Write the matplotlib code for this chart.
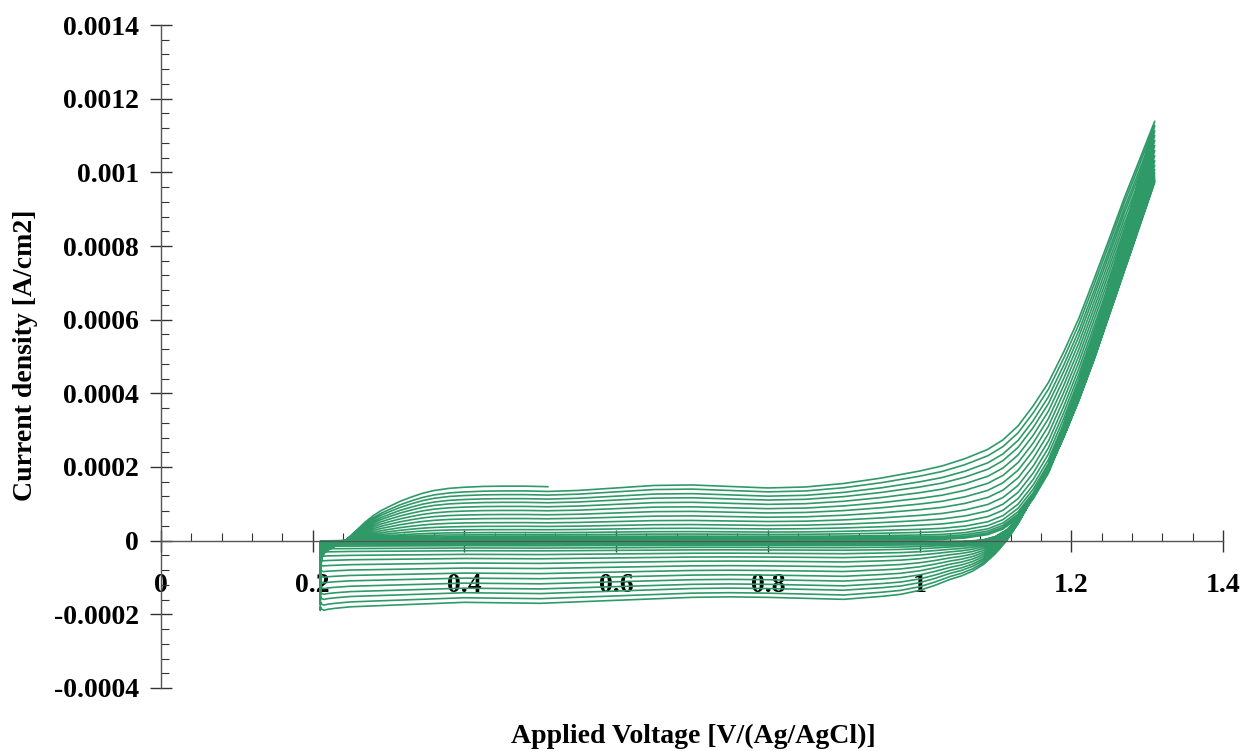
import numpy as np
import matplotlib.pyplot as plt
from matplotlib.ticker import MultipleLocator, FuncFormatter

plt.rcParams['font.family'] = ['Liberation Serif', 'DejaVu Serif']
plt.rcParams['font.weight'] = 'bold'

# anodic sweep: potential (V vs Ag/AgCl)
v_fwd = np.array([0.210, 0.2105, 0.212, 0.216, 0.222, 0.230, 0.237, 0.243, 0.250,
                  0.260, 0.270, 0.280, 0.290, 0.300, 0.315, 0.330, 0.345, 0.360,
                  0.380, 0.400, 0.425, 0.450, 0.480, 0.510, 0.550, 0.600, 0.650,
                  0.700, 0.750, 0.800, 0.850, 0.900, 0.950, 1.000, 1.030, 1.060,
                  1.090, 1.110, 1.130, 1.150, 1.170, 1.190, 1.210, 1.230, 1.250,
                  1.270, 1.290, 1.310])
# double layer part, in units of the plateau current at 0.45 V
cap_fwd = np.array([-1.28, -0.55, -0.32, -0.22, -0.16, -0.10, -0.05, 0.00, 0.09,
                    0.22, 0.35, 0.46, 0.55, 0.62, 0.72, 0.80, 0.87, 0.92,
                    0.96, 0.98, 0.995, 1.00, 1.00, 0.99, 1.01, 1.06, 1.11,
                    1.12, 1.09, 1.06, 1.08, 1.15, 1.26, 1.40, 1.50, 1.62,
                    1.74, 1.82, 1.88, 1.90, 1.85, 1.72, 1.58, 1.48, 1.40,
                    1.34, 1.29, 1.25])
# oxygen evolution part (A/cm2)
oer_fwd = np.array([0, 0, 0, 0, 0, 0, 0, 0, 0,
                    0, 0, 0, 0, 0, 0, 0, 0, 0,
                    0, 0, 0, 0, 0, 0, 0, 0, 0,
                    0, 0, 0, 0, 0, 0, 0, 0.0000005, 0.000004,
                    0.000013, 0.000028, 0.000058, 0.00011, 0.00018, 0.00028, 0.00039, 0.00051, 0.00063,
                    0.00075, 0.00086, 0.00097])

# cathodic sweep back to the lower vertex
v_rev = np.array([1.310, 1.290, 1.270, 1.250, 1.230, 1.210, 1.190, 1.170, 1.150,
                  1.130, 1.115, 1.100, 1.085, 1.070, 1.055, 1.040, 1.020, 1.000,
                  0.975, 0.950, 0.900, 0.850, 0.800, 0.750, 0.700, 0.650, 0.600,
                  0.550, 0.500, 0.450, 0.400, 0.350, 0.300, 0.250, 0.230, 0.220,
                  0.215, 0.212, 0.210])
cap_rev = np.array([1.25, 1.00, 0.82, 0.66, 0.52, 0.38, 0.25, 0.12, 0.00,
                    -0.10, -0.22, -0.35, -0.50, -0.62, -0.71, -0.78, -0.90, -1.00,
                    -1.08, -1.12, -1.18, -1.16, -1.14, -1.13, -1.14, -1.17, -1.20,
                    -1.23, -1.26, -1.25, -1.24, -1.27, -1.30, -1.33, -1.36, -1.38,
                    -1.40, -1.38, -1.33])
oer_rev = np.array([0.00097, 0.00085, 0.00073, 0.00061, 0.00049, 0.00038, 0.00028, 0.00019, 0.00012,
                    0.00006, 0.00003, 0.000012, 0.000004, 0.000001, 0, 0, 0, 0,
                    0, 0, 0, 0, 0, 0, 0, 0, 0,
                    0, 0, 0, 0, 0, 0, 0, 0, 0,
                    0, 0, 0])

# plateau current of each full cycle (A/cm2)
plateau = [0.000002, 0.0000045, 0.0000075, 0.000011, 0.000016, 0.000022, 0.00003,
           0.000039, 0.000049, 0.00006, 0.000071, 0.000082, 0.000093, 0.000104,
           0.000114, 0.000125, 0.000135]
# last sweep is stopped half way
last_plateau = 0.000148
last_stop = 0.51

V = []
I = []
for p in plateau:
    V += list(v_fwd) + list(v_rev)
    I += list(p*cap_fwd + oer_fwd) + list(p*cap_rev + oer_rev)
keep = v_fwd <= last_stop
V += list(v_fwd[keep])
I += list(last_plateau*cap_fwd[keep] + oer_fwd[keep])

fig = plt.figure(figsize=(12.44, 7.51), dpi=100)
ax = fig.add_axes([0.1294, 0.0839, 0.8537, 0.8828])
ax.plot(V, I, color='#2f9a68', lw=1.2)

ax.set_xlim(0, 1.4)
ax.set_ylim(-0.0004, 0.0014)

# axes cross at zero current
ax.spines['bottom'].set_position(('data', 0))
ax.spines['top'].set_visible(False)
ax.spines['right'].set_visible(False)
for s in ['bottom', 'left']:
    ax.spines[s].set_color('#555555')
    ax.spines[s].set_linewidth(1.0)

ax.xaxis.set_major_locator(MultipleLocator(0.2))
ax.xaxis.set_minor_locator(MultipleLocator(0.04))
ax.yaxis.set_major_locator(MultipleLocator(0.0002))
ax.yaxis.set_minor_locator(MultipleLocator(0.00004))
fmt = FuncFormatter(lambda x, pos: '%g' % round(x, 6))
ax.xaxis.set_major_formatter(fmt)
ax.yaxis.set_major_formatter(fmt)

ax.tick_params(which='major', direction='inout', length=16, width=1.0,
               color='#333333', labelsize=20)
ax.tick_params(which='minor', direction='in', length=6, width=0.8, color='#333333')
ax.tick_params(axis='x', which='major', pad=15)
ax.tick_params(axis='y', which='major', pad=8)

ax.set_xlabel('Applied Voltage [V/(Ag/AgCl)]', fontsize=20, fontweight='bold')
ax.set_ylabel('Current density [A/cm2]', fontsize=20, fontweight='bold')
ax.xaxis.set_label_coords(693/1244, 1 - 724/751, transform=fig.transFigure)
ax.yaxis.set_label_coords(38/1244, 396/751, transform=fig.transFigure)

fig.savefig('out.png', dpi=100)
